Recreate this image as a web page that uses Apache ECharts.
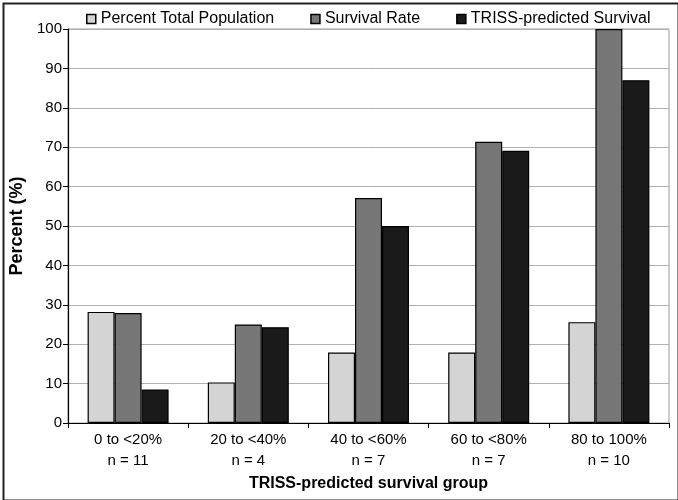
<!DOCTYPE html>
<html><head><meta charset="utf-8">
<script src="https://cdn.jsdelivr.net/npm/echarts@6/dist/echarts.min.js"></script>
<style>html,body{margin:0;padding:0;background:#fff}#c{width:678px;height:500px}</style>
</head><body><div id="c"></div>
<script>
const categories = ['0 to <20%', '20 to <40%', '40 to <60%', '60 to <80%', '80 to 100%'];
const nLabels = ['n = 11', 'n = 4', 'n = 7', 'n = 7', 'n = 10'];
const percentTotalPopulation = [28.2, 10.3, 17.9, 17.9, 25.6];
const survivalRate = [27.9, 25, 57.1, 71.4, 100];
const trissPredicted = [8.5, 24.3, 50, 69.1, 87];
const yTicks = [0, 10, 20, 30, 40, 50, 60, 70, 80, 90, 100];

const font = 'Liberation Sans, Arial, sans-serif';
const chart = echarts.init(document.getElementById('c'));
const labels = categories.map((c, i) => c + '\n' + nLabels[i]);
function bar(name, data, color) {
  return { name, type: 'bar', data, barWidth: 27, barGap: '0%',
    itemStyle: { color, borderColor: '#000', borderWidth: 1.2 } };
}
chart.setOption({
  animation: false,
  textStyle: { fontFamily: font },
  legend: {
    left: 81, top: 6, itemWidth: 9, itemHeight: 9, itemGap: 36,
    icon: 'rect',
    itemStyle: { borderColor: '#000', borderWidth: 1.5 },
    textStyle: { fontSize: 16, color: '#000', fontFamily: font },
    data: ['Percent Total Population', 'Survival Rate', 'TRISS-predicted Survival'],
  },
  grid: { left: 63, right: 9, top: 29, bottom: 77, show: true, borderColor: '#999', borderWidth: 1 },
  xAxis: {
    type: 'category', data: labels,
    name: 'TRISS-predicted survival group', nameLocation: 'middle', nameGap: 53,
    nameTextStyle: { fontSize: 16, fontWeight: 'bold', color: '#000', fontFamily: font },
    axisLine: { lineStyle: { color: '#000', width: 1.2 } },
    axisTick: { show: true, length: 5, lineStyle: { color: '#000' } },
    axisLabel: { fontSize: 15, color: '#000', lineHeight: 21, margin: 6, fontFamily: font },
  },
  yAxis: {
    type: 'value', min: 0, max: 100, interval: 10,
    name: 'Percent (%)', nameLocation: 'middle', nameGap: 42, nameRotate: 90,
    nameTextStyle: { fontSize: 18, fontWeight: 'bold', color: '#000', fontFamily: font },
    axisLine: { show: true, lineStyle: { color: '#000', width: 1.2 } },
    axisTick: { show: true, length: 5, lineStyle: { color: '#000' } },
    axisLabel: { fontSize: 15, color: '#000', margin: 6, fontFamily: font,
      formatter: v => yTicks.includes(v) ? String(v) : '' },
    splitLine: { lineStyle: { color: '#b0b0b0', width: 1 } },
  },
  graphic: [{ type: 'rect', left: 1, top: 1, shape: { width: 675, height: 497 },
    style: { fill: 'none', stroke: '#222', lineWidth: 2 }, silent: true }],
  series: [
    bar('Percent Total Population', percentTotalPopulation, '#d4d4d4'),
    bar('Survival Rate', survivalRate, '#777777'),
    bar('TRISS-predicted Survival', trissPredicted, '#1a1a1a'),
  ],
});
</script></body></html>
